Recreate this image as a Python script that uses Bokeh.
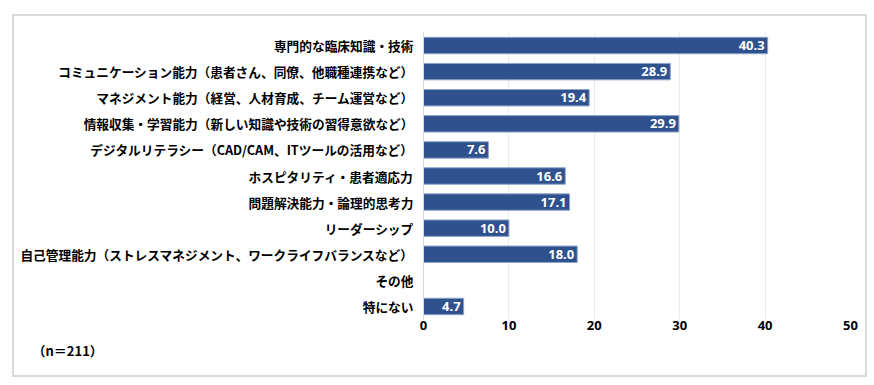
from bokeh.plotting import figure
from bokeh.models import ColumnDataSource, LabelSet, FactorRange, Title
from bokeh.core.properties import value
from bokeh.embed import file_html
from bokeh.resources import INLINE

categories = [
    "専門的な臨床知識・技術",
    "コミュニケーション能力（患者さん、同僚、他職種連携など）",
    "マネジメント能力（経営、人材育成、チーム運営など）",
    "情報収集・学習能力（新しい知識や技術の習得意欲など）",
    "デジタルリテラシー（CAD/CAM、ITツールの活用など）",
    "ホスピタリティ・患者適応力",
    "問題解決能力・論理的思考力",
    "リーダーシップ",
    "自己管理能力（ストレスマネジメント、ワークライフバランスなど）",
    "その他",
    "特にない",
]
values = [40.3, 28.9, 19.4, 29.9, 7.6, 16.6, 17.1, 10.0, 18.0, 0.0, 4.7]
x_ticks = [0, 10, 20, 30, 40, 50]
note = "（n＝211）"

BAR = "#2F528F"
JP = "Noto Sans CJK JP"

src = ColumnDataSource(dict(cat=categories, val=values))
lab_src = ColumnDataSource(dict(
    cat=[c for c, v in zip(categories, values) if v > 0],
    val=[v for v in values if v > 0],
    txt=[f"{v:.1f}" for v in values if v > 0],
))

p = figure(
    width=867, height=377,
    y_range=FactorRange(factors=list(reversed(categories)), range_padding=0),
    x_range=(0, 50),
    output_backend="svg", toolbar_location=None,
    min_border_left=423, min_border_right=17, min_border_top=32, min_border_bottom=58,
)
# light grey frame around the whole chart
p.styles = {
    "background-color": "white",
    "box-shadow": "inset 12px 14px 0 0 white, inset 14px 16px 0 0 #d9d9d9, "
                  "inset -2px -2px 0 0 #d9d9d9",
}
p.border_fill_alpha = 0
p.background_fill_color = "white"
p.outline_line_color = None

p.hbar(y="cat", right="val", left=0, height=0.63, source=src,
       fill_color=BAR, line_color="#8ea4cc", line_width=1)

p.add_layout(LabelSet(x="val", y="cat", text="txt", source=lab_src,
                      x_offset=-3, text_align="right", text_baseline="middle",
                      text_color="white", text_font=value("Noto Sans"),
                      text_font_style="bold", text_font_size="13px"))

p.xaxis.ticker = x_ticks
p.xaxis.axis_line_color = None
p.xaxis.major_tick_line_color = None
p.xaxis.minor_tick_line_color = None
p.xaxis.major_label_standoff = -5
p.xaxis.major_label_text_font = "Noto Sans"
p.xaxis.major_label_text_font_style = "bold"
p.xaxis.major_label_text_font_size = "13px"
p.xaxis.major_label_text_color = "black"

p.yaxis.axis_line_color = "#d9d9d9"
p.yaxis.major_tick_line_color = None
p.yaxis.minor_tick_line_color = None
p.yaxis.major_label_standoff = 4
p.yaxis.major_label_text_font = JP
p.yaxis.major_label_text_font_style = "bold"
p.yaxis.major_label_text_font_size = "12.7px"
p.yaxis.major_label_text_color = "black"

p.ygrid.grid_line_color = None
p.xgrid.grid_line_color = "#ebebeb"
p.xgrid.ticker = x_ticks

p.add_layout(Title(text=note, align="left", offset=-391, text_font=JP,
                   text_font_style="bold", text_font_size="13px",
                   text_color="black", standoff=12), "below")

open("out.html", "w").write(file_html(p, INLINE))
